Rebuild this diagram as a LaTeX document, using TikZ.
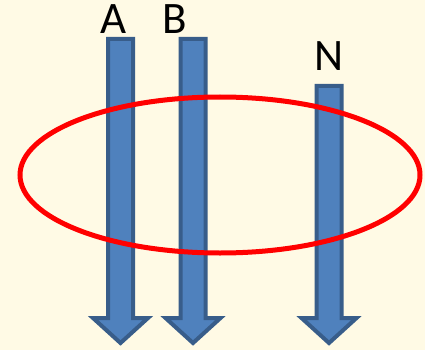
\documentclass[tikz,border=0pt]{standalone}
\usepackage{fontspec}
\setmainfont{Carlito}
\definecolor{bgcream}{HTML}{FFFAE5}
\definecolor{arrowfill}{HTML}{4F81BD}
\definecolor{arrowedge}{HTML}{385D8A}
\newcommand\flowarrow[2]{%
  \draw[flowstyle] (#1-12.5,#2) -- (#1+12.5,#2) -- (#1+12.5,318) -- (#1+27.5,318)
    -- (#1,343) -- (#1-27.5,318) -- (#1-12.5,318) -- cycle;}
\tikzset{
  flowstyle/.style={fill=arrowfill, draw=arrowedge, line width=4pt, line join=miter},
  ringstyle/.style={draw=red, line width=5pt},
  labelstyle/.style={font=\fontsize{45}{50}\selectfont, text=black, inner sep=0pt}
}
\begin{document}
\begin{tikzpicture}[x=1pt,y=-1pt]
\fill[bgcream] (0,0) rectangle (425,350);
\useasboundingbox (0,0) rectangle (425,350);
\flowarrow{120.5}{39}
\flowarrow{193}{39}
\flowarrow{329}{86}
\draw[ringstyle] (220,175) ellipse [x radius=200, y radius=78];
\node[labelstyle] (la) at (114,19) {A};
\node[labelstyle] (lb) at (175,19) {B};
\node[labelstyle] (ln) at (329,56) {N};
\end{tikzpicture}
\end{document}
